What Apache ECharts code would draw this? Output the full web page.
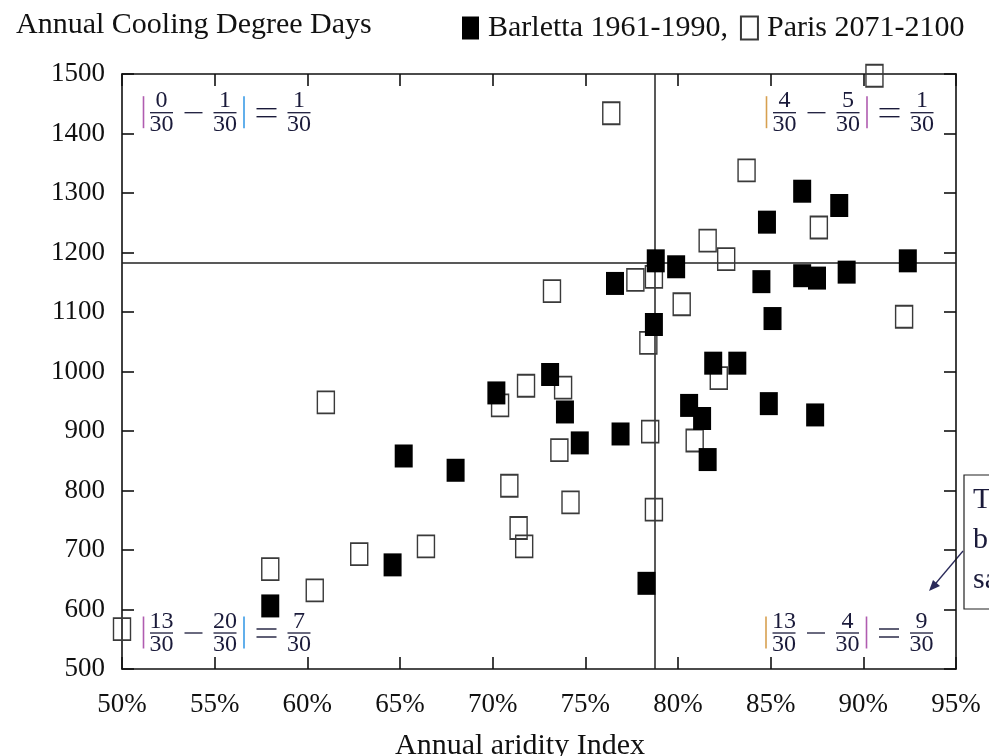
<!DOCTYPE html>
<html><head><meta charset="utf-8">
<script src="https://cdn.jsdelivr.net/npm/echarts@6/dist/echarts.min.js"></script>
<style>html,body{margin:0;padding:0;background:#fff;}#c{width:989px;height:756px;}</style>
</head><body><div id="c"></div>
<script>
// ---- data ----
const barlettaAridity = [58.0, 64.6, 65.2, 68.0, 70.2, 73.1, 73.9, 74.7, 76.6, 76.9,
  78.3, 78.8, 78.7, 79.9, 80.6, 81.3, 81.6, 81.9, 83.2, 84.5,
  84.8, 84.9, 85.1, 86.7, 86.7, 87.5, 87.4, 88.7, 89.1, 92.4];
const barlettaCDD = [606, 675, 858, 834, 964, 995, 932, 880, 1148, 895,
  644, 1186, 1079, 1176, 943, 921, 852, 1014, 1014, 1151,
  1251, 946, 1089, 1303, 1161, 1157, 927, 1279, 1167, 1186];
const parisAridity = [50.0, 58.0, 60.4, 61.0, 62.8, 66.4, 70.4, 70.9, 71.4, 71.7,
  71.8, 73.2, 73.8, 73.6, 74.2, 76.4, 77.7, 78.4, 78.5, 78.7,
  78.7, 80.2, 80.9, 81.6, 82.2, 82.6, 83.7, 87.6, 90.6, 92.2];
const parisCDD = [567, 668, 632, 948, 693, 706, 943, 808, 737, 706,
  976, 1135, 973, 868, 780, 1434, 1154, 1048, 899, 1159,
  768, 1113, 884, 1220, 989, 1189, 1338, 1242, 1497, 1092];
const refAridity = 78.75;
const refCDD = 1183;
const xMin = 50, xMax = 95, xStep = 5;
const yMin = 500, yMax = 1500, yStep = 100;
// quadrant annotations |a/30 - b/30| = c/30
const quadNums = [[0, 1, 1], [4, 5, 1], [13, 20, 7], [13, 4, 9]];
const quadDen = 30;
const seriesNames = ['Barletta 1961-1990', 'Paris 2071-2100'];
const titleText = 'Annual Cooling Degree Days';
const xName = 'Annual aridity Index';
const noteLines = ['T', 'b', 'sa'];

const FONT = 'Liberation Serif';
const INK = '#1a1a3a';

const chart = echarts.init(document.getElementById('c'), null, {renderer: 'canvas'});

function frac(cx, yl, num, fs) {
  return [
    {type: 'text', x: cx, y: yl - 11.5, style: {text: String(num), font: fs + 'px "' + FONT + '"', fill: INK, align: 'center', verticalAlign: 'middle'}},
    {type: 'line', shape: {x1: cx - 11.5, y1: yl, x2: cx + 11.5, y2: yl}, style: {stroke: INK, lineWidth: 1.3}},
    {type: 'text', x: cx, y: yl + 12, style: {text: String(quadDen), font: fs + 'px "' + FONT + '"', fill: INK, align: 'center', verticalAlign: 'middle'}}
  ];
}
function absExpr(x0, yl, nums, c1, c2) {
  const fs = 24;
  let els = [];
  els.push({type: 'line', shape: {x1: x0, y1: yl - 16.5, x2: x0, y2: yl + 15.5}, style: {stroke: c1, lineWidth: 1.6}});
  els = els.concat(frac(x0 + 18, yl, nums[0], fs));
  els.push({type: 'line', shape: {x1: x0 + 41, y1: yl, x2: x0 + 59, y2: yl}, style: {stroke: INK, lineWidth: 1.3}});
  els = els.concat(frac(x0 + 81.5, yl, nums[1], fs));
  els.push({type: 'line', shape: {x1: x0 + 100.5, y1: yl - 16.5, x2: x0 + 100.5, y2: yl + 15.5}, style: {stroke: c2, lineWidth: 1.6}});
  els.push({type: 'line', shape: {x1: x0 + 113, y1: yl - 4, x2: x0 + 133, y2: yl - 4}, style: {stroke: INK, lineWidth: 1.4}});
  els.push({type: 'line', shape: {x1: x0 + 113, y1: yl + 4, x2: x0 + 133, y2: yl + 4}, style: {stroke: INK, lineWidth: 1.4}});
  els = els.concat(frac(x0 + 155.5, yl, nums[2], fs));
  return els;
}

let graphics = [];
graphics = graphics.concat(absExpr(143.5, 112.7, quadNums[0], '#b05cb0', '#3a9be6'));
graphics = graphics.concat(absExpr(766.5, 112.7, quadNums[1], '#d7a050', '#b05cb0'));
graphics = graphics.concat(absExpr(143.5, 633, quadNums[2], '#b05cb0', '#3a9be6'));
graphics = graphics.concat(absExpr(766, 633, quadNums[3], '#d7a050', '#b05cb0'));
// side note box with arrow (cut off at the right edge)
graphics.push({type: 'rect', shape: {x: 964, y: 475, width: 120, height: 134}, style: {fill: 'none', stroke: '#222', lineWidth: 1.2}});
noteLines.forEach((t, i) => {
  graphics.push({type: 'text', x: 973, y: 500 + i * 40, style: {text: t, font: '30px "' + FONT + '"', fill: INK, align: 'left', verticalAlign: 'middle'}});
});
graphics.push({type: 'line', shape: {x1: 963, y1: 551, x2: 931, y2: 589}, style: {stroke: '#2a2a5a', lineWidth: 1.3}});
graphics.push({type: 'polygon', shape: {points: [[929, 591], [933, 580], [940, 586]]}, style: {fill: '#2a2a5a'}});

const axisLine = {show: true, lineStyle: {color: '#111', width: 1.6}};
const tickIn = {show: true, inside: true, length: 12, lineStyle: {color: '#111', width: 1.6}};

chart.setOption({
  animation: false,
  backgroundColor: '#fff',
  title: {text: titleText, left: 11, top: 5, textStyle: {fontFamily: FONT, fontSize: 30, fontWeight: 'normal', color: '#111'}},
  legend: {
    left: 457, top: 8, itemWidth: 17, itemHeight: 23, itemGap: 12,
    data: [{name: seriesNames[0], icon: 'rect'}, {name: seriesNames[1], icon: 'rect'}],
    formatter: n => n === seriesNames[0] ? n + ',' : n,
    textStyle: {fontFamily: FONT, fontSize: 30, color: '#111', padding: [0, 0, 0, 4]}
  },
  grid: {left: 122, right: 33, top: 74, bottom: 87, containLabel: false, outerBoundsMode: 'none'},
  xAxis: [
    {type: 'value', position: 'bottom', min: xMin, max: xMax, interval: xStep,
     axisLine: axisLine, axisTick: tickIn, splitLine: {show: false},
     axisLabel: {formatter: '{value}%', fontFamily: FONT, fontSize: 27, color: '#111', margin: 22},
     name: xName, nameLocation: 'middle', nameGap: 62,
     nameTextStyle: {fontFamily: FONT, fontSize: 30, color: '#111', padding: [0, 38, 0, 0]}},
    {type: 'value', position: 'top', min: xMin, max: xMax, interval: xStep,
     axisLine: axisLine, axisTick: tickIn, splitLine: {show: false}, axisLabel: {show: false}}
  ],
  yAxis: [
    {type: 'value', position: 'left', min: yMin, max: yMax, interval: yStep,
     axisLine: axisLine, axisTick: tickIn, splitLine: {show: false},
     axisLabel: {formatter: v => String(v), fontFamily: FONT, fontSize: 27, color: '#111', margin: 17}},
    {type: 'value', position: 'right', min: yMin, max: yMax, interval: yStep,
     axisLine: axisLine, axisTick: tickIn, splitLine: {show: false}, axisLabel: {show: false}}
  ],
  series: [
    {name: seriesNames[1], type: 'scatter', xAxisIndex: 0, yAxisIndex: 0, clip: false,
     symbol: 'rect', symbolSize: [17, 22],
     itemStyle: {color: 'rgba(255,255,255,0)', borderColor: '#3a3a3a', borderWidth: 1.6, opacity: 1},
     data: parisAridity.map((x, i) => [x, parisCDD[i]]), z: 3},
    {name: seriesNames[0], type: 'scatter', xAxisIndex: 0, yAxisIndex: 0, clip: false,
     symbol: 'rect', symbolSize: [18, 23],
     itemStyle: {color: '#000', opacity: 1},
     data: barlettaAridity.map((x, i) => [x, barlettaCDD[i]]), z: 4,
     markLine: {silent: true, symbol: ['none', 'none'], label: {show: false},
       lineStyle: {color: '#222', width: 1.5, type: 'solid'},
       data: [{xAxis: refAridity}, {yAxis: refCDD}], z: 2}}
  ],
  graphic: graphics
});
</script></body></html>
